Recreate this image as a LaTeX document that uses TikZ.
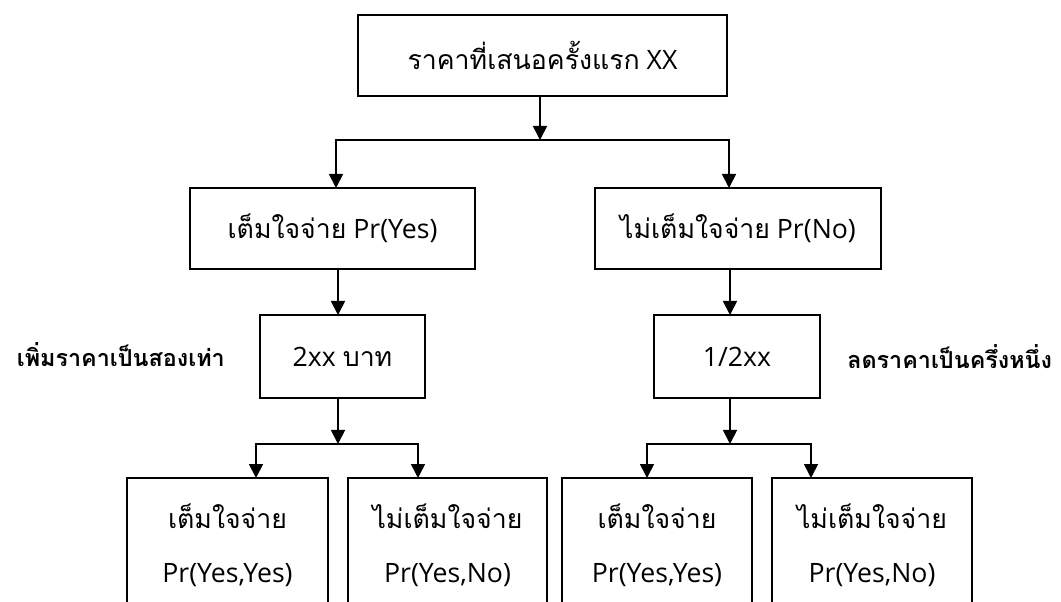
\documentclass[tikz,border=0pt]{standalone}
\usepackage{fontspec}
\setmainfont{Open Sans}
\newfontfamily\thaifont[Script=Thai]{Loma}
\usetikzlibrary{arrows.meta}
\begin{document}
\begin{tikzpicture}[x=0.75pt,y=-0.75pt,
  box/.style={draw,line width=1.3pt,rectangle,inner sep=0pt,outer sep=0pt,
    font=\fontsize{20}{40.5}\selectfont,align=center},
  arr/.style={line width=1.3pt,-{Triangle[length=10.5pt,width=10.5pt]}},
  ln/.style={line width=1.3pt},
  lbl/.style={font=\fontsize{17.5}{20}\selectfont\bfseries,inner sep=0pt}]
\useasboundingbox (0,0) rectangle (1061,602);
\clip (0,0) rectangle (1061,602);
% boxes
\node[box,minimum width=369*0.75pt,minimum height=81*0.75pt] (top) at (542.5,55.5) {{\thaifont ราคาที่เสนอครั้งแรก} XX};
\node[box,minimum width=285*0.75pt,minimum height=81*0.75pt] (mL) at (332.5,228.5) {{\thaifont เต็มใจจ่าย} Pr(Yes)};
\node[box,minimum width=286*0.75pt,minimum height=81*0.75pt] (mR) at (738,228.5) {{\thaifont ไม่เต็มใจจ่าย} Pr(No)};
\node[box,minimum width=165*0.75pt,minimum height=83*0.75pt] (bx2) at (342.5,356.5) {2xx {\thaifont บาท}};
\node[box,minimum width=166*0.75pt,minimum height=83*0.75pt] (bx3) at (737,356.5) {1/2xx};
\node[box,minimum width=201*0.75pt,minimum height=134*0.75pt] (b1) at (227.5,545) {{\thaifont เต็มใจจ่าย}\\Pr(Yes,Yes)};
\node[box,minimum width=199*0.75pt,minimum height=134*0.75pt] (b2) at (447.5,545) {{\thaifont ไม่เต็มใจจ่าย}\\Pr(Yes,No)};
\node[box,minimum width=190*0.75pt,minimum height=134*0.75pt] (b3) at (657,545) {{\thaifont เต็มใจจ่าย}\\Pr(Yes,Yes)};
\node[box,minimum width=200*0.75pt,minimum height=134*0.75pt] (b4) at (872,545) {{\thaifont ไม่เต็มใจจ่าย}\\Pr(Yes,No)};
% side labels
\node[lbl,anchor=east] (lblL) at (225,355) {\thaifont เพิ่มราคาเป็นสองเท่า};
\node[lbl,anchor=west] (lblR) at (847,357) {\thaifont ลดราคาเป็นครึ่งหนึ่ง};
% junctions
\coordinate (j0) at (540,140); \coordinate (j0l) at (336,140); \coordinate (j0r) at (729,140);
\coordinate (c1) at (338,292); \coordinate (c2) at (730,292);
\coordinate (j1) at (338,444); \coordinate (j1l) at (256,444); \coordinate (j1r) at (418,444);
\coordinate (j2) at (730,444); \coordinate (j2l) at (647,444); \coordinate (j2r) at (811,444);
% connectors
\draw[arr] (j0 |- top.south) -- (j0);
\draw[arr] (j0) -- (j0l) -- (j0l |- mL.north);
\draw[arr] (j0) -- (j0r) -- (j0r |- mR.north);
\draw[arr] (c1 |- mL.south) -- (c1 |- bx2.north);
\draw[arr] (c2 |- mR.south) -- (c2 |- bx3.north);
\draw[arr] (j1 |- bx2.south) -- (j1);
\draw[arr] (j1) -- (j1l) -- (j1l |- b1.north);
\draw[arr] (j1) -- (j1r) -- (j1r |- b2.north);
\draw[arr] (j2 |- bx3.south) -- (j2);
\draw[arr] (j2) -- (j2l) -- (j2l |- b3.north);
\draw[arr] (j2) -- (j2r) -- (j2r |- b4.north);
\end{tikzpicture}
\end{document}
